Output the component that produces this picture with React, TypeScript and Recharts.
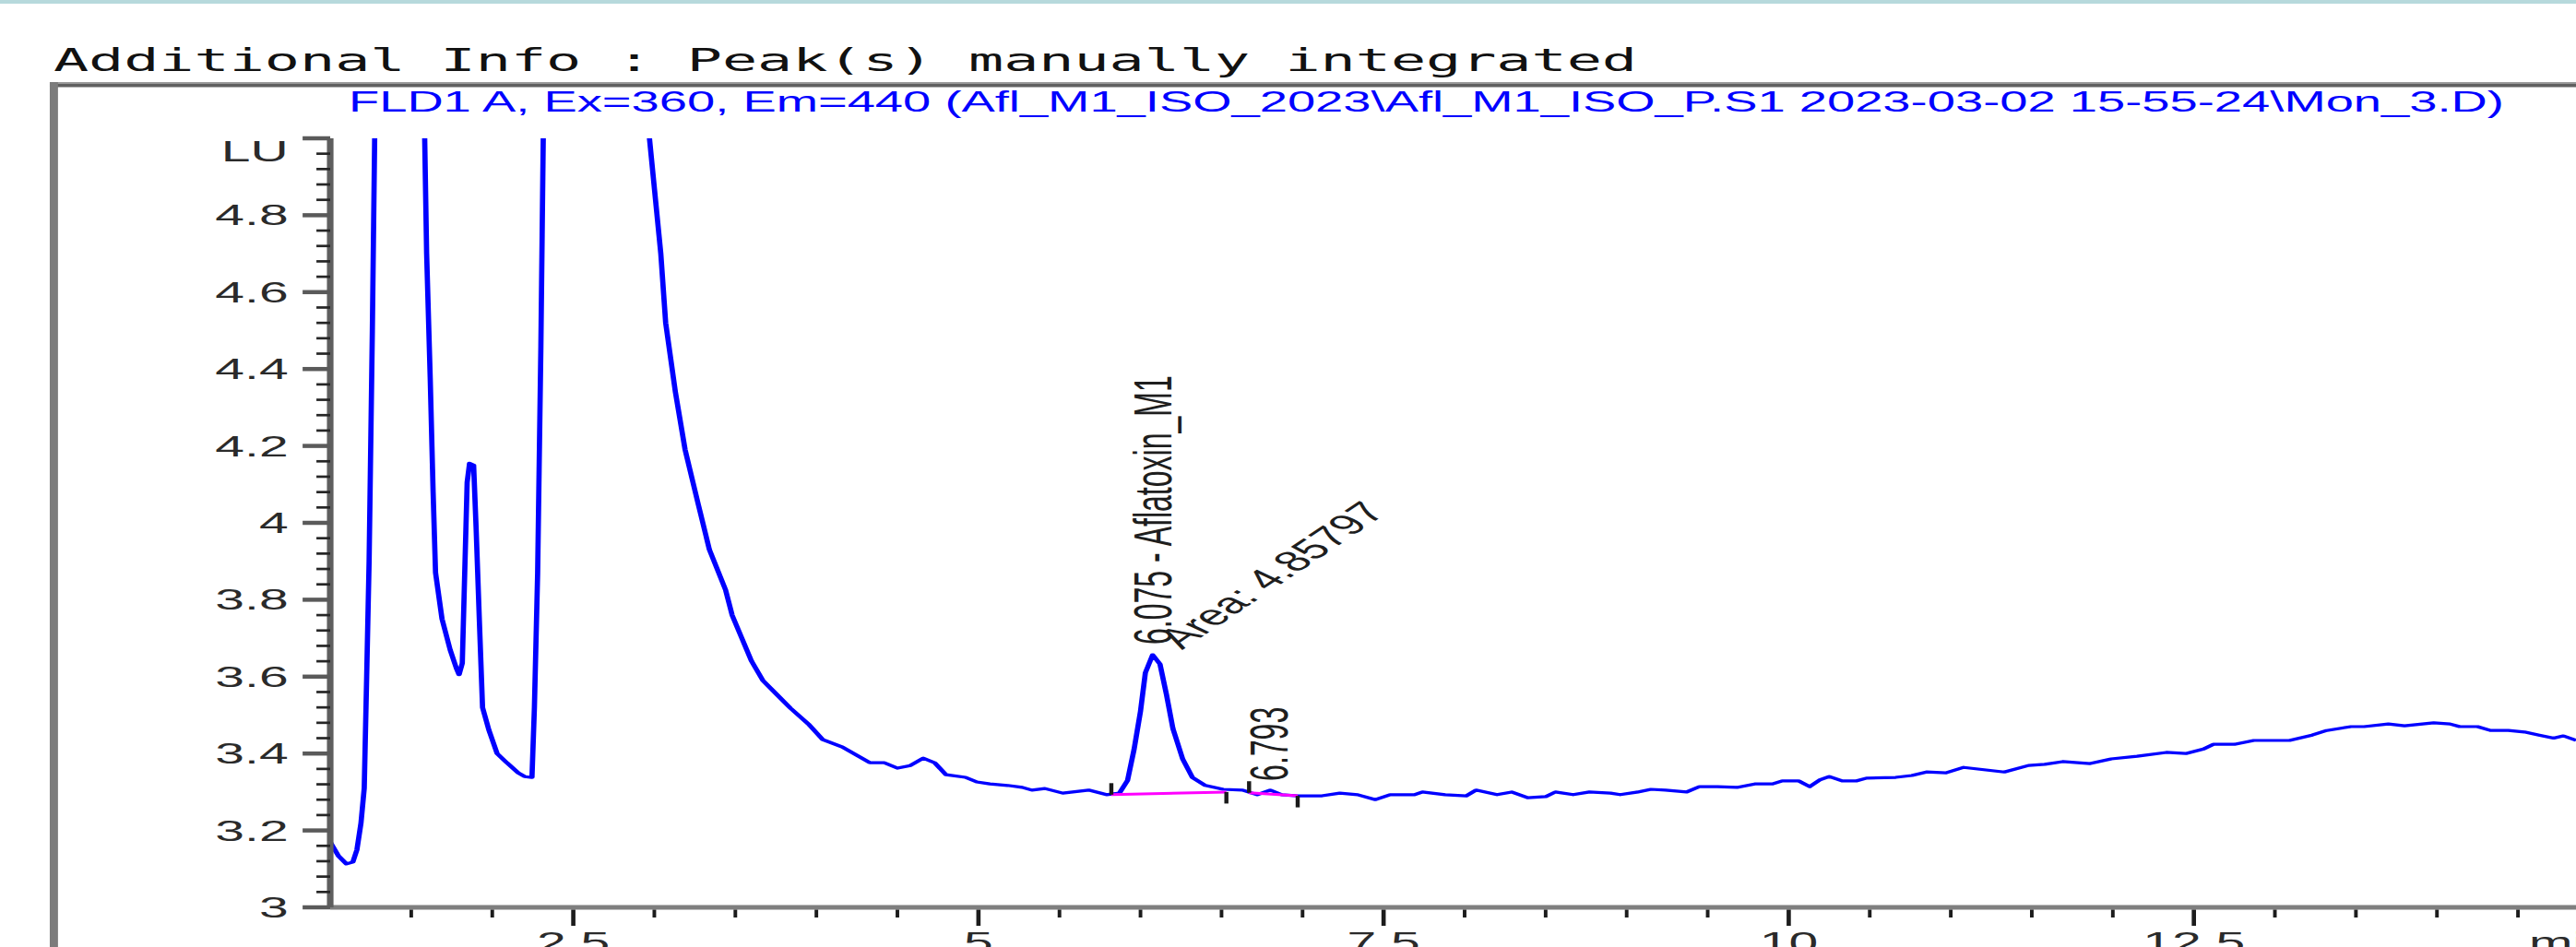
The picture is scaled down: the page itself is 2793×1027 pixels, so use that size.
import React from 'react';
import { LineChart, Line, XAxis, YAxis, ReferenceDot, ReferenceLine } from 'recharts';

// The reference is drawn horizontally stretched; we draw on a 1568-wide canvas and stretch it.
const OUT_W = 2793;
const OUT_H = 1027;
const BASE_W = 1568;
const STRETCH = OUT_W / BASE_W;

const HEADER_TEXT = 'Additional Info : Peak(s) manually integrated';
const SIGNAL_TITLE =
  'FLD1 A, Ex=360, Em=440 (Afl_M1_ISO_2023\\Afl_M1_ISO_P.S1 2023-03-02 15-55-24\\Mon_3.D)';
const X_UNIT = 'min';

// [time (min), signal (LU)]
const TRACE_SOLVENT: [number, number][] = [
  [1.0, 3.17], [1.05, 3.134], [1.1, 3.113], [1.14, 3.118], [1.165, 3.15], [1.19, 3.22],
  [1.21, 3.31], [1.225, 3.6], [1.24, 3.9], [1.26, 4.5], [1.28, 5.2], [1.42, 9.0],
  [1.575, 5.2], [1.595, 4.7], [1.617, 4.377], [1.635, 4.08], [1.65, 3.87], [1.69, 3.75],
  [1.74, 3.67], [1.78, 3.62], [1.795, 3.605], [1.815, 3.635], [1.83, 3.87], [1.845, 4.105],
  [1.86, 4.155], [1.885, 4.15], [1.9, 3.99], [1.92, 3.75], [1.94, 3.52], [1.98, 3.46],
  [2.03, 3.4], [2.09, 3.376], [2.16, 3.35], [2.2, 3.34], [2.245, 3.338], [2.26, 3.52],
  [2.28, 3.87], [2.3, 4.46], [2.32, 5.2], [2.65, 15.0], [2.95, 5.3], [2.97, 5.0],
  [3.04, 4.7], [3.07, 4.52], [3.13, 4.34], [3.19, 4.19], [3.27, 4.05], [3.34, 3.93],
];
const TRACE_TAIL: [number, number][] = [
  [3.44, 3.825], [3.48, 3.76], [3.54, 3.7], [3.6, 3.64], [3.67, 3.59], [3.75, 3.556],
  [3.84, 3.518], [3.95, 3.477], [4.04, 3.436], [4.16, 3.417], [4.24, 3.398], [4.33, 3.376],
  [4.42, 3.376], [4.5, 3.362], [4.58, 3.369], [4.66, 3.388], [4.73, 3.376], [4.8, 3.345],
  [4.92, 3.338], [4.99, 3.326], [5.07, 3.321], [5.18, 3.317], [5.27, 3.312], [5.33, 3.305],
  [5.41, 3.309], [5.52, 3.297], [5.68, 3.305], [5.79, 3.293], [5.87, 3.297],
];
const TRACE_PEAKS: [number, number][] = [
  [5.92, 3.33], [5.96, 3.41], [6.0, 3.51], [6.03, 3.61], [6.075, 3.657], [6.12, 3.633],
  [6.16, 3.554], [6.2, 3.465], [6.26, 3.386], [6.32, 3.338], [6.4, 3.317], [6.51, 3.307],
  [6.63, 3.305], [6.72, 3.293], [6.8, 3.305], [6.87, 3.293], [6.97, 3.29],
];
const TRACE_BASELINE: [number, number][] = [
  [7.12, 3.29], [7.23, 3.297], [7.34, 3.293], [7.45, 3.28], [7.54, 3.293], [7.69, 3.293],
  [7.74, 3.3], [7.88, 3.293], [8.01, 3.29], [8.07, 3.305], [8.2, 3.293], [8.29, 3.3],
  [8.39, 3.285], [8.5, 3.288], [8.56, 3.3], [8.67, 3.293], [8.77, 3.3], [8.9, 3.297],
  [8.96, 3.293], [9.07, 3.3], [9.15, 3.307], [9.24, 3.305], [9.37, 3.3], [9.45, 3.314],
  [9.56, 3.314], [9.68, 3.312], [9.79, 3.321], [9.9, 3.321], [9.96, 3.329], [10.06, 3.329],
  [10.13, 3.314], [10.19, 3.331], [10.25, 3.34], [10.33, 3.329], [10.42, 3.329], [10.48, 3.336],
  [10.66, 3.338], [10.76, 3.343], [10.85, 3.352], [10.97, 3.35], [11.08, 3.364], [11.33, 3.352],
  [11.48, 3.369], [11.58, 3.372], [11.69, 3.379], [11.86, 3.374], [11.99, 3.386], [12.15, 3.393],
  [12.33, 3.403], [12.45, 3.4], [12.56, 3.412], [12.62, 3.424], [12.75, 3.424], [12.87, 3.434],
  [13.09, 3.434], [13.23, 3.448], [13.32, 3.46], [13.47, 3.47], [13.55, 3.47], [13.7, 3.477],
  [13.8, 3.472], [13.98, 3.48], [14.08, 3.477], [14.14, 3.47], [14.25, 3.47], [14.33, 3.46],
  [14.44, 3.46], [14.54, 3.456], [14.63, 3.448], [14.72, 3.44], [14.78, 3.446], [14.86, 3.434],
];

// integration baselines (start/end time and level)
const INTEGRATION_BASELINES = [
  { t0: 5.82, v0: 3.293, t1: 6.53, v1: 3.3 },
  { t0: 6.67, v0: 3.298, t1: 6.97, v1: 3.29 },
];
const MARKER_LU = 0.03;

const PEAK_LABELS = [
  { rt: 6.075, lu: 3.657, name: '6.075 - Aflatoxin_M1', area: 'Area: 4.85797' },
  { rt: 6.793, lu: 3.3, name: '6.793', area: '' },
];

const X_DOMAIN: [number, number] = [1, 14.858];
const Y_DOMAIN: [number, number] = [3, 5];
const X_TICKS = [
  1.5, 2, 2.5, 3, 3.5, 4, 4.5, 5, 5.5, 6, 6.5, 7, 7.5, 8, 8.5, 9, 9.5, 10, 10.5, 11, 11.5,
  12, 12.5, 13, 13.5, 14, 14.5,
];
const X_MAJOR = [2.5, 5, 7.5, 10, 12.5];
const X_LABELS = ['2.5', '5', '7.5', '10', '12.5'];
const Y_MAJOR = [3, 3.2, 3.4, 3.6, 3.8, 4, 4.2, 4.4, 4.6, 4.8, 5];
const Y_LABELS = ['3', '3.2', '3.4', '3.6', '3.8', '4', '4.2', '4.4', '4.6', '4.8', 'LU'];
const Y_MINOR_STEP = 0.04;
const Y_TICKS: number[] = Y_MAJOR.flatMap((m, i) =>
  i === Y_MAJOR.length - 1 ? [m] : [0, 1, 2, 3, 4].map((k) => +(m + k * Y_MINOR_STEP).toFixed(2))
);

const toRows = (pts: [number, number][]) => pts.map(([t, v]) => ({ t, v }));
const traceData = toRows([...TRACE_SOLVENT, ...TRACE_TAIL, ...TRACE_PEAKS, ...TRACE_BASELINE]);

const SANS = '"Liberation Sans", Arial, sans-serif';
const TICK_COLOR = '#2a2a2a';

const XTick = (props: any) => {
  const { x, y, payload } = props;
  const v = payload.value;
  const idx = X_MAJOR.findIndex((m) => Math.abs(m - v) < 1e-6);
  const major = idx >= 0;
  return (
    <g>
      <line x1={x} x2={x} y1={y + 2.5} y2={y + (major ? 20 : 11)} stroke="#1c1c1c" strokeWidth={major ? 2.6 : 2.2} />
      {major && (
        <text x={x} y={y + 49} textAnchor="middle" fontSize={32} fontFamily={SANS} fill={TICK_COLOR}>
          {X_LABELS[idx]}
        </text>
      )}
    </g>
  );
};

const YTick = (props: any) => {
  const { x, y, payload } = props;
  const v = payload.value;
  const idx = Y_MAJOR.findIndex((m) => Math.abs(m - v) < 1e-6);
  const major = idx >= 0;
  const isUnit = idx === Y_MAJOR.length - 1;
  return (
    <g>
      <line
        x1={x - (major ? 16.8 : 8.4)}
        x2={x}
        y1={y}
        y2={y}
        stroke={major ? '#5a5a5a' : '#262626'}
        strokeWidth={major ? 4.5 : 2.7}
      />
      {major && (
        <text x={x - 25.5} y={isUnit ? y + 25 : y + 11} textAnchor="end" fontSize={32} fontFamily={SANS} fill={TICK_COLOR}>
          {Y_LABELS[idx]}
        </text>
      )}
    </g>
  );
};

const PeakNameLabel = (text: string, dy: number) => (props: any) => {
  const vb = props.viewBox || {};
  const cx = vb.x ?? 0;
  const cy = vb.y ?? 0;
  return (
    <text
      transform={`translate(${cx + 11.5},${cy - dy}) rotate(-90)`}
      fontSize={32}
      fontFamily={SANS}
      fill="#1e1e1e"
      textAnchor="start"
    >
      {text}
    </text>
  );
};

const AreaLabel = (text: string) => (props: any) => {
  const vb = props.viewBox || {};
  const cx = vb.x ?? 0;
  const cy = vb.y ?? 0;
  return (
    <text
      transform={`translate(${cx + 18},${cy - 5}) rotate(-50)`}
      fontSize={31}
      fontFamily={SANS}
      fill="#1e1e1e"
      textAnchor="start"
    >
      {text}
    </text>
  );
};

export default function App() {
  return (
    <div
      style={{
        position: 'fixed',
        left: 0,
        top: 0,
        width: OUT_W,
        height: OUT_H,
        overflow: 'hidden',
        background: '#ffffff',
      }}
    >
      <div
        style={{
          position: 'absolute',
          left: 0,
          top: 0,
          width: BASE_W,
          height: OUT_H,
          overflow: 'hidden',
          transform: `scaleX(${STRETCH})`,
          transformOrigin: '0 0',
        }}
      >
        <svg width={BASE_W} height={OUT_H} style={{ position: 'absolute', left: 0, top: 0 }}>
          <rect x={0} y={0} width={BASE_W} height={4} fill="#b7d9dc" />
          <text
            x={32.5}
            y={77}
            fontSize={34}
            fontFamily='"DejaVu Sans Mono", "Liberation Mono", monospace'
            fill="#111111"
            textLength={964}
            lengthAdjust="spacingAndGlyphs"
          >
            {HEADER_TEXT}
          </text>
          <rect x={30.3} y={89} width={BASE_W} height={2} fill="#9a9a9a" />
          <rect x={30.3} y={91} width={BASE_W} height={3.5} fill="#606060" />
          <rect x={30.3} y={89} width={5} height={OUT_H} fill="#7c7c7c" />
          <text
            x={212.2}
            y={121.5}
            fontSize={32}
            fontFamily={SANS}
            fill="#0000ff"
            textLength={1312}
            lengthAdjust="spacingAndGlyphs"
          >
            {SIGNAL_TITLE}
          </text>
          <text x={1539.4} y={1033} fontSize={32} fontFamily={SANS} fill={TICK_COLOR}>
            {X_UNIT}
          </text>
        </svg>
        <div style={{ position: 'absolute', left: 0, top: 0 }}>
          <LineChart width={BASE_W} height={1100} margin={{ top: 150, right: 0, bottom: 0, left: 0 }}>
            <XAxis
              dataKey="t"
              type="number"
              domain={X_DOMAIN}
              allowDataOverflow
              ticks={X_TICKS}
              interval={0}
              height={116}
              tickSize={0}
              tickMargin={0}
              tickLine={false}
              axisLine={{ stroke: '#7f7f7f', strokeWidth: 5 }}
              tick={<XTick />}
            />
            <YAxis
              type="number"
              domain={Y_DOMAIN}
              allowDataOverflow
              ticks={Y_TICKS}
              interval={0}
              width={201}
              tickSize={0}
              tickMargin={0}
              tickLine={false}
              axisLine={{ stroke: '#5e5e5e', strokeWidth: 4 }}
              tick={<YTick />}
            />
            <Line
              data={traceData}
              dataKey="v"
              type="linear"
              stroke="#0000ff"
              strokeWidth={3.2}
              strokeLinejoin="round"
              dot={false}
              activeDot={false}
              isAnimationActive={false}
            />
            {INTEGRATION_BASELINES.map((b, i) => (
              <Line
                key={`bl-${i}`}
                data={[
                  { t: b.t0, v: b.v0 },
                  { t: b.t1, v: b.v1 },
                ]}
                dataKey="v"
                type="linear"
                stroke="#ff00ff"
                strokeWidth={3}
                dot={false}
                activeDot={false}
                isAnimationActive={false}
              />
            ))}
            {INTEGRATION_BASELINES.map((b, i) => (
              <ReferenceLine
                key={`ms-${i}`}
                segment={[
                  { x: b.t0, y: b.v0 },
                  { x: b.t0, y: b.v0 + MARKER_LU },
                ]}
                stroke="#1a1a1a"
                strokeWidth={2.5}
              />
            ))}
            {INTEGRATION_BASELINES.map((b, i) => (
              <ReferenceLine
                key={`me-${i}`}
                segment={[
                  { x: b.t1, y: b.v1 },
                  { x: b.t1, y: b.v1 - MARKER_LU },
                ]}
                stroke="#1a1a1a"
                strokeWidth={2.5}
              />
            ))}
            {PEAK_LABELS.map((p, i) => (
              <ReferenceDot
                key={`pn-${i}`}
                x={p.rt}
                y={p.lu}
                r={0}
                fill="none"
                stroke="none"
                label={{ content: PeakNameLabel(p.name, i === 0 ? 11 : 12) }}
              />
            ))}
            {PEAK_LABELS.filter((p) => p.area).map((p, i) => (
              <ReferenceDot
                key={`pa-${i}`}
                x={p.rt}
                y={p.lu}
                r={0}
                fill="none"
                stroke="none"
                label={{ content: AreaLabel(p.area) }}
              />
            ))}
          </LineChart>
        </div>
      </div>
    </div>
  );
}
